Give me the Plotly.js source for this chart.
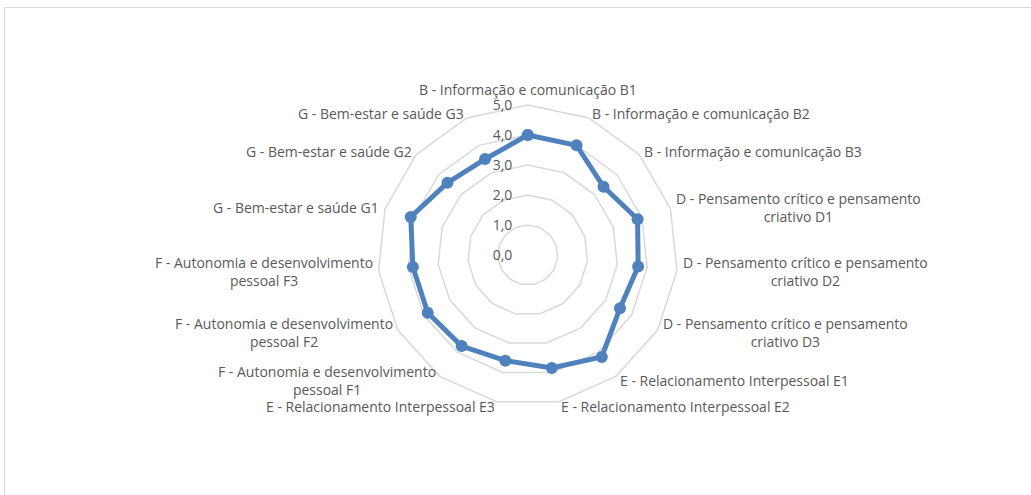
<!DOCTYPE html>
<html>
<head>
<meta charset="utf-8">
<script src="https://cdn.plot.ly/plotly-3.0.1.min.js"></script>
<style>html,body{margin:0;padding:0;background:#fff;}#chart{width:1031px;height:495px;}</style>
</head>
<body>
<div id="chart"></div>
<script>
const categories = [
  "B - Informação e comunicação B1",
  "B - Informação e comunicação B2",
  "B - Informação e comunicação B3",
  "D - Pensamento crítico e pensamento criativo D1",
  "D - Pensamento crítico e pensamento criativo D2",
  "D - Pensamento crítico e pensamento criativo D3",
  "E - Relacionamento Interpessoal E1",
  "E - Relacionamento Interpessoal E2",
  "E - Relacionamento Interpessoal E3",
  "F - Autonomia e desenvolvimento pessoal F1",
  "F - Autonomia e desenvolvimento pessoal F2",
  "F - Autonomia e desenvolvimento pessoal F3",
  "G - Bem-estar e saúde G1",
  "G - Bem-estar e saúde G2",
  "G - Bem-estar e saúde G3"
];
const categoryLabels = [
  "B - Informação e comunicação B1",
  "B - Informação e comunicação B2",
  "B - Informação e comunicação B3",
  "D - Pensamento crítico e pensamento<br>criativo D1",
  "D - Pensamento crítico e pensamento<br>criativo D2",
  "D - Pensamento crítico e pensamento<br>criativo D3",
  "E - Relacionamento Interpessoal E1",
  "E - Relacionamento Interpessoal E2",
  "E - Relacionamento Interpessoal E3",
  "F - Autonomia e desenvolvimento<br>pessoal F1",
  "F - Autonomia e desenvolvimento<br>pessoal F2",
  "F - Autonomia e desenvolvimento<br>pessoal F3",
  "G - Bem-estar e saúde G1",
  "G - Bem-estar e saúde G2",
  "G - Bem-estar e saúde G3"
];
const values = [4.0, 4.0, 3.4, 3.85, 3.7, 3.55, 4.2, 3.85, 3.6, 3.75, 3.85, 3.85, 4.1, 3.6, 3.5];
const radialTicks = [0, 1, 2, 3, 4, 5];

const W = 1031, H = 495;
const domX = [0.36615, 0.65761];
const domY = [0.18182, 0.78788];
const cx = (domX[0] + domX[1]) / 2 * W;
const cy = (1 - (domY[0] + domY[1]) / 2) * H;
const R = Math.min((domX[1] - domX[0]) * W, (domY[1] - domY[0]) * H) / 2;

const font = {family: "Open Sans, sans-serif", size: 14, color: "#595959"};

const annotations = categoryLabels.map((lab, i) => {
  const th = i * 2 * Math.PI / categories.length;
  const s = Math.sin(th), c = Math.cos(th);
  const off = 5;
  const px = cx + (R + off) * s;
  const py = cy - (R + off) * c;
  let xanchor = Math.abs(s) < 0.1 ? "center" : (s > 0 ? "left" : "right");
  let yanchor = (Math.abs(s) < 0.1 && c > 0) ? "bottom" : "middle";
  return {
    text: lab, xref: "paper", yref: "paper",
    x: px / W, y: 1 - py / H,
    xanchor: xanchor, yanchor: yanchor, align: "center",
    showarrow: false, font: font, borderpad: 0
  };
});

const rClosed = values.concat([values[0]]);
const tClosed = categories.concat([categories[0]]);

const trace = {
  type: "scatterpolar",
  r: rClosed,
  theta: tClosed,
  mode: "lines+markers",
  line: {color: "#4F81BD", width: 5},
  marker: {color: "#4F81BD", size: 12},
  hoverinfo: "skip",
  showlegend: false
};

const layout = {
  width: W, height: H,
  margin: {l: 0, r: 0, t: 0, b: 0},
  paper_bgcolor: "#ffffff",
  separators: ",.",
  font: font,
  showlegend: false,
  polar: {
    domain: {x: domX, y: domY},
    bgcolor: "rgba(0,0,0,0)",
    gridshape: "linear",
    radialaxis: {
      range: [0, 5],
      tickvals: radialTicks,
      tickformat: ".1f",
      angle: 90,
      side: "counterclockwise",
      showline: false,
      ticks: "outside",
      ticklen: 10,
      tickcolor: "rgba(0,0,0,0)",
      gridcolor: "#D9D9D9",
      gridwidth: 1.5,
      tickfont: font,
      tickangle: 90
    },
    angularaxis: {
      type: "category",
      categoryarray: categories,
      rotation: 90,
      direction: "clockwise",
      showgrid: false,
      showticklabels: false,
      ticks: "",
      showline: true,
      linecolor: "#D9D9D9",
      linewidth: 1.5
    }
  },
  annotations: annotations,
  shapes: [{
    type: "rect", xref: "paper", yref: "paper",
    x0: 4.5 / W, x1: 1.02, y0: -0.02, y1: 1 - 7.5 / H,
    line: {color: "#D9D9D9", width: 1}, fillcolor: "rgba(0,0,0,0)"
  }]
};

Plotly.newPlot("chart", [trace], layout, {displayModeBar: false, staticPlot: true});
</script>
</body>
</html>
